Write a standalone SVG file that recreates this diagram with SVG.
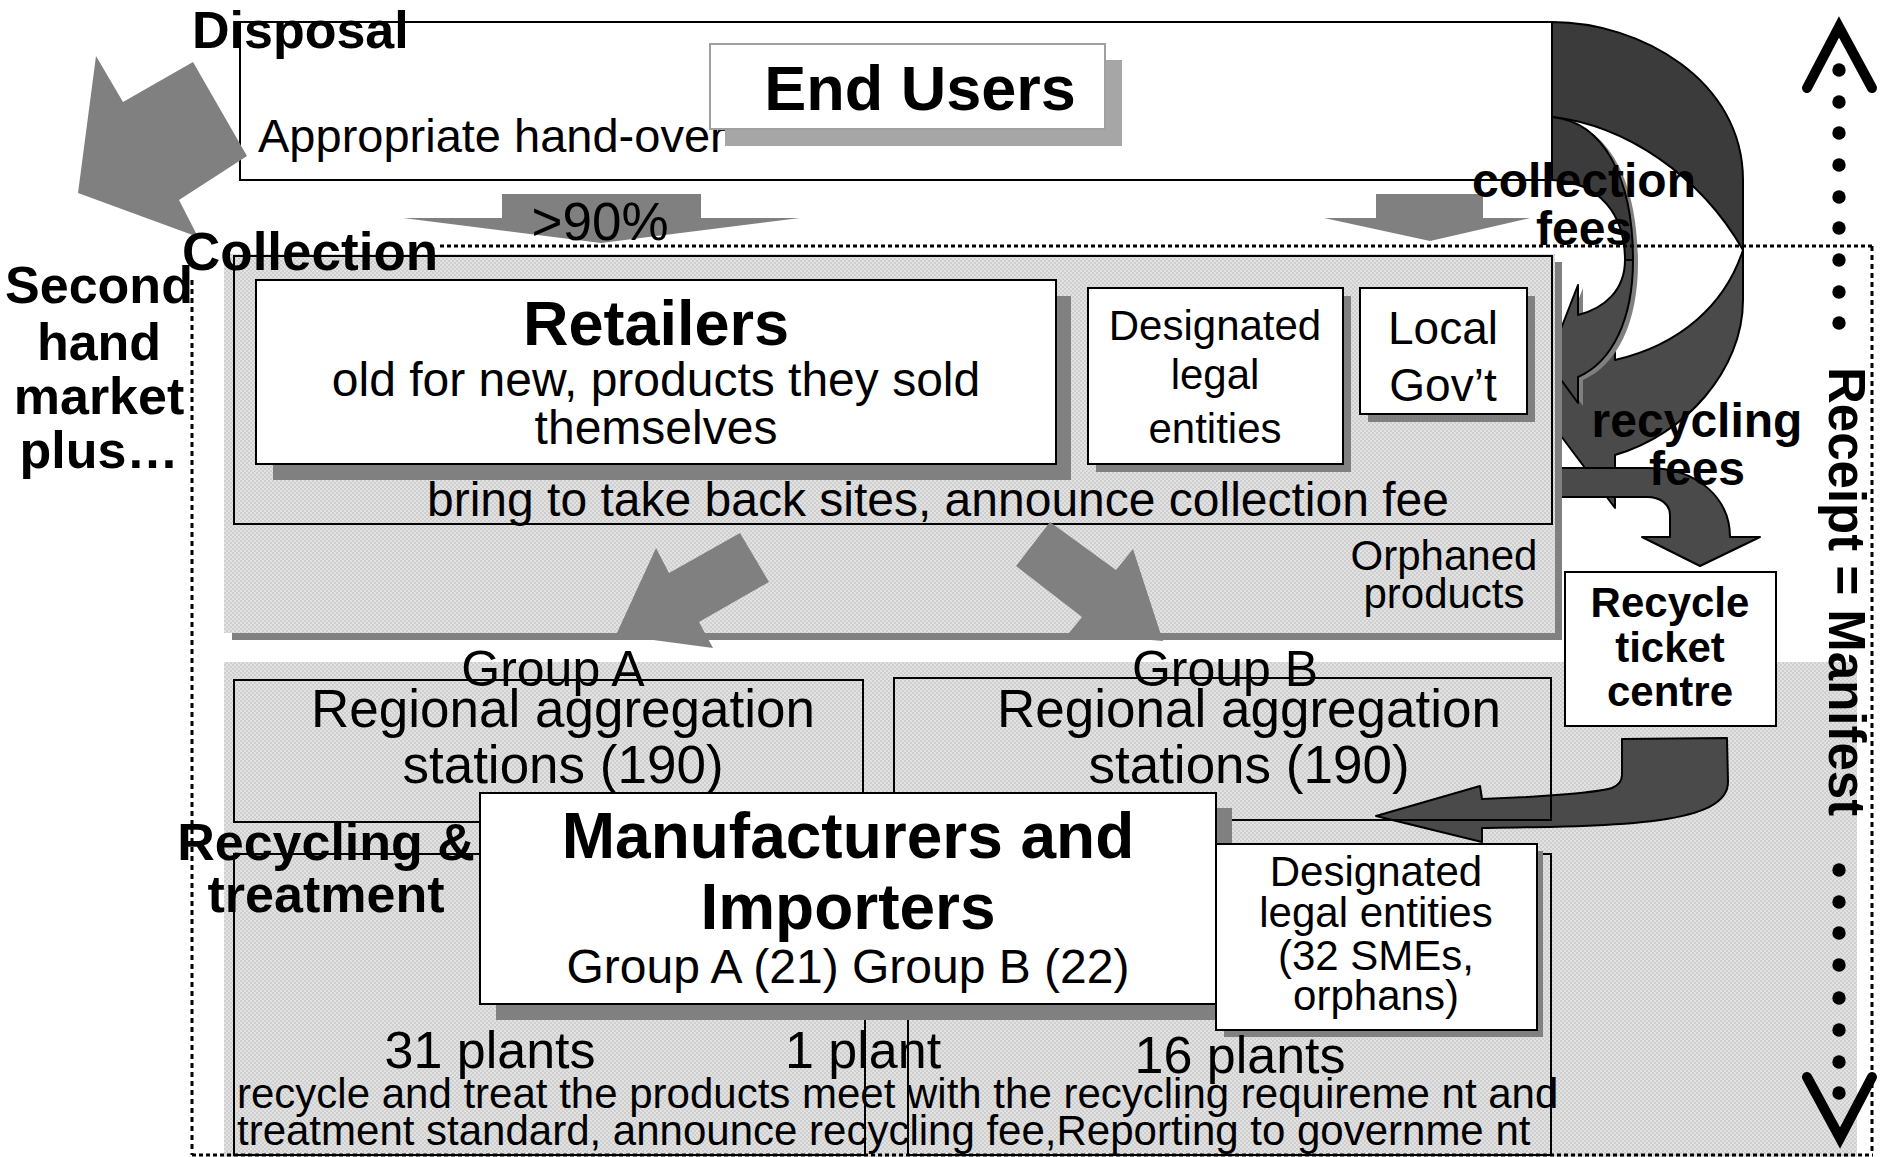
<svg xmlns="http://www.w3.org/2000/svg" width="1880" height="1157" viewBox="0 0 1880 1157">
<defs>
<pattern id="hatch" width="4" height="4" patternUnits="userSpaceOnUse">
<rect width="4" height="4" fill="#e2e2e2"/>
<rect width="2" height="2" fill="#cfcfcf"/>
<rect x="2" y="2" width="2" height="2" fill="#cfcfcf"/>
</pattern>
<style>
text{font-family:"Liberation Sans",Arial,sans-serif;fill:#000}
.b{font-weight:bold}
.m{text-anchor:middle}
.e{text-anchor:end}
.box{fill:#fff;stroke:#000;stroke-width:2}
.frame{fill:none;stroke:#000;stroke-width:2}
.sh{fill:#808080}
.ga{fill:#808080}
.dk1{fill:#3b3b3b;stroke:#000;stroke-width:2;stroke-linejoin:round}
.dk2{fill:#4a4a4a;stroke:#000;stroke-width:2;stroke-linejoin:round}
.dotH{stroke:#000;stroke-width:3;stroke-dasharray:4 3;fill:none}
.dotV{stroke:#000;stroke-width:3;stroke-dasharray:5 4;fill:none}
.chev{fill:none;stroke:#000;stroke-width:10;stroke-linecap:round;stroke-linejoin:miter}
</style>
</defs>
<rect width="1880" height="1157" fill="#fff"/>

<g id="end-users">
<rect class="box" x="240" y="22" width="1312" height="158"/>
<text x="258" y="152" font-size="47">Appropriate hand-over</text>
<rect x="725" y="60" width="397" height="86" fill="#a6a6a6"/>
<rect x="710" y="44" width="395" height="85" fill="#fff" stroke="#a0a0a0" stroke-width="2"/>
<text class="b m" x="920" y="110" font-size="63">End Users</text>
</g>

<g id="fee-arrows">
<path class="dk1" d="M1552,22 C1640,22 1743,80 1743,180 L1743,250 C1700,175 1625,125 1552,117 Z"/>
<path class="dk2" d="M1743,250 L1743,300 C1743,370 1685,435 1615,455 L1615,508 L1540,408 L1615,309 L1615,360 C1680,345 1725,305 1743,250 Z"/>
<g transform="translate(5,3)" fill="#808080">
<path d="M1552,117 C1605,122 1633,180 1633,260 C1633,320 1612,362 1578,377 L1578,403 L1548,362 L1578,285 L1578,315 C1605,308 1625,290 1625,260 C1625,215 1600,182 1552,180 Z"/>
</g>
<path class="dk1" d="M1552,117 C1605,122 1633,180 1633,260 L1625,260 C1625,215 1600,182 1552,180 Z"/>
<path class="dk2" d="M1633,260 C1633,320 1612,362 1578,377 L1578,403 L1548,362 L1578,285 L1578,315 C1605,308 1625,290 1625,260 Z"/>
<path class="dk2" d="M1540,468 L1647,468 C1700,468 1730,500 1730,537 L1760,537 L1700,566 L1642,537 L1670,537 L1670,515 C1670,504 1660,497 1647,497 L1540,497 Z"/>
</g>

<g id="collection">
<rect x="232" y="262" width="1330" height="378" class="sh"/>
<rect x="224" y="254" width="1331" height="379" fill="url(#hatch)"/>
<rect class="frame" x="234" y="256" width="1318" height="268"/>
</g>

<g id="lower-area">
<rect x="224" y="662" width="1633" height="495" fill="url(#hatch)"/>
</g>

<g id="retailers">
<rect class="sh" x="273" y="296" width="798" height="184"/>
<rect class="box" x="256" y="280" width="800" height="184"/>
<text class="b m" x="656" y="345" font-size="63">Retailers</text>
<text class="m" x="656" y="396" font-size="48">old for new, products they sold</text>
<text class="m" x="656" y="444" font-size="48">themselves</text>
</g>

<g id="designated-collect">
<rect class="sh" x="1096" y="296" width="255" height="176"/>
<rect class="box" x="1088" y="288" width="255" height="176"/>
<text class="m" x="1215" y="340" font-size="42">Designated</text>
<text class="m" x="1215" y="389" font-size="42">legal</text>
<text class="m" x="1215" y="443" font-size="42">entities</text>
</g>

<g id="local-gov">
<rect class="sh" x="1368" y="296" width="167" height="126"/>
<rect class="box" x="1360" y="288" width="167" height="126"/>
<text class="m" x="1443" y="344" font-size="46">Local</text>
<text class="m" x="1443" y="401" font-size="46">Gov’t</text>
</g>

<g id="collection-texts">
<text class="m" x="938" y="516" font-size="48">bring to take back sites, announce collection fee</text>
<text class="m" x="1444" y="570" font-size="42">Orphaned</text>
<text class="m" x="1444" y="608" font-size="42">products</text>
</g>

<g id="gray-arrows">
<polygon class="ga" points="96,56 123,102 193,62 247,156 179,200 198,237 78,193"/>
<polygon class="ga" points="502,194 701,194 701,218 800,218 601,243 403,218 502,218"/>
<polygon class="ga" points="1376,194 1483,194 1483,218 1530,218 1430,241 1324,218 1376,218"/>
<polygon class="ga" points="740,533 669,573 656,548 616,635 713,648 699,622 769,582"/>
<polygon class="ga" points="1050,522 1116,570 1133,549 1163,641 1069,633 1082,617 1016,566"/>
</g>

<g id="recycle-ticket">
<rect class="box" x="1565" y="572" width="211" height="154"/>
<text class="b m" x="1670" y="617" font-size="42">Recycle</text>
<text class="b m" x="1670" y="662" font-size="42">ticket</text>
<text class="b m" x="1670" y="706" font-size="42">centre</text>
<path class="dk2" d="M1622,739 L1727,738 L1728,782 C1728,825 1620,826 1482,828 L1482,842 L1376,816 L1480,786 L1482,799 C1545,797 1600,792 1612,788 C1619,785 1622,781 1622,775 Z"/>
</g>

<g id="group-a">
<rect class="frame" x="234" y="680" width="629" height="142"/>
<text class="m" x="553" y="686" font-size="50">Group A</text>
<text class="m" x="563" y="727" font-size="53">Regional aggregation</text>
<text class="m" x="563" y="783" font-size="53">stations (190)</text>
</g>

<g id="group-b">
<rect class="frame" x="894" y="678" width="657" height="142"/>
<text class="m" x="1225" y="686" font-size="50">Group B</text>
<text class="m" x="1249" y="727" font-size="53">Regional aggregation</text>
<text class="m" x="1249" y="783" font-size="53">stations (190)</text>
</g>

<g id="recycling-boxes">
<rect class="frame" x="234" y="854" width="631" height="301" stroke-width="1.5"/>
<rect class="frame" x="908" y="854" width="643" height="301" stroke-width="1.5"/>
</g>

<g id="manufacturers">
<rect class="sh" x="496" y="808" width="736" height="212"/>
<rect class="box" x="480" y="793" width="736" height="211"/>
<text class="b m" x="848" y="858" font-size="64">Manufacturers and</text>
<text class="b m" x="848" y="929" font-size="64">Importers</text>
<text class="m" x="848" y="983" font-size="48">Group A (21) Group B (22)</text>
</g>

<g id="designated-recycle">
<rect class="sh" x="1224" y="851" width="319" height="186"/>
<rect class="box" x="1216" y="844" width="321" height="186"/>
<text class="m" x="1376" y="886" font-size="42">Designated</text>
<text class="m" x="1376" y="927" font-size="42">legal entities</text>
<text class="m" x="1376" y="970" font-size="42">(32 SMEs,</text>
<text class="m" x="1376" y="1010" font-size="42">orphans)</text>
</g>

<g id="plants">
<text class="m" x="490" y="1068" font-size="52">31 plants</text>
<text x="785" y="1068" font-size="52">1 plant</text>
<text class="m" x="1240" y="1073" font-size="52">16 plants</text>
<text x="237" y="1108" font-size="42">recycle and treat the products meet with the recycling requireme nt and</text>
<text x="237" y="1145" font-size="42">treatment standard, announce recycling fee,Reporting to governme nt</text>
</g>

<g id="labels">
<text class="b" x="192" y="48" font-size="52">Disposal</text>
<text class="b" x="182" y="270" font-size="53">Collection</text>
<text class="b m" x="99" y="303" font-size="52">Second</text>
<text class="b m" x="99" y="360" font-size="52">hand</text>
<text class="b m" x="99" y="414" font-size="52">market</text>
<text class="b m" x="99" y="468" font-size="52">plus…</text>
<text class="m" x="600" y="240" font-size="53">&gt;90%</text>
<text class="b m" x="1584" y="197" font-size="48">collection</text>
<text class="b m" x="1584" y="245" font-size="48">fees</text>
<text class="b m" x="1697" y="437" font-size="48">recycling</text>
<text class="b m" x="1697" y="485" font-size="48">fees</text>
<text class="b m" x="326" y="860" font-size="52">Recycling &amp;</text>
<text class="b m" x="326" y="912" font-size="52">treatment</text>
</g>

<g id="boundary">
<path class="dotH" d="M440,246 H1873"/>
<path class="dotH" d="M192,1155 H1873"/>
<path class="dotV" d="M192,280 V1155"/>
<path class="dotV" d="M1872,246 V1155"/>
</g>

<g id="manifest">
<polyline class="chev" points="1807,88 1839,27 1872,88"/>
<polyline class="chev" points="1807,1077 1840,1138 1872,1077"/>
<g fill="#000">
<circle cx="1839" cy="70" r="6.7"/><circle cx="1839" cy="102" r="6.7"/><circle cx="1839" cy="133" r="6.7"/><circle cx="1839" cy="165" r="6.7"/>
<circle cx="1839" cy="197" r="6.7"/><circle cx="1839" cy="228" r="6.7"/><circle cx="1839" cy="260" r="6.7"/><circle cx="1839" cy="292" r="6.7"/>
<circle cx="1839" cy="323" r="6.7"/>
<circle cx="1839" cy="870" r="6.7"/><circle cx="1839" cy="902" r="6.7"/><circle cx="1839" cy="933" r="6.7"/><circle cx="1839" cy="965" r="6.7"/>
<circle cx="1839" cy="998" r="6.7"/><circle cx="1839" cy="1030" r="6.7"/><circle cx="1839" cy="1062" r="6.7"/><circle cx="1839" cy="1093" r="6.7"/>
</g>
<text class="b" transform="translate(1829,367) rotate(90)" font-size="51">Receipt = Manifest</text>
</g>
</svg>
